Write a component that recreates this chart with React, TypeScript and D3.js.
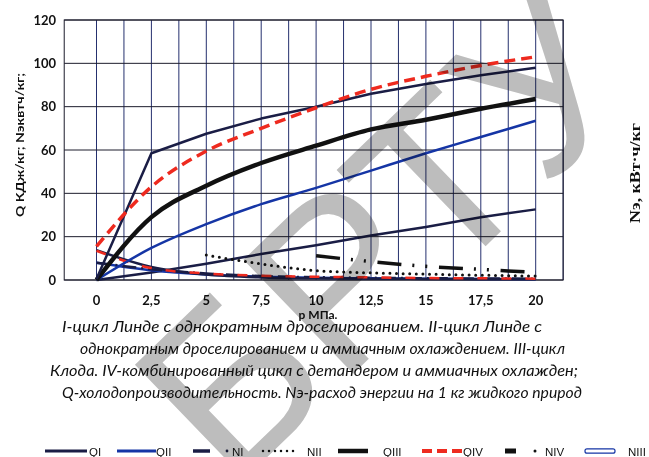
import React from "react";
import * as d3 from "d3";

// давление, МПа
const pressure = [0, 2.5, 5, 7.5, 10, 12.5, 15, 17.5, 20];
const yTicks = [0, 20, 40, 60, 80, 100, 120];

// холодопроизводительность Q
const qI = [0.5, 58.5, 67.5, 74.5, 80, 86, 90.5, 94.5, 98];
const qII = [0, 14.8, 25.8, 35, 42.5, 50.5, 58.5, 66, 73.5];
const qIII = [0, 29, 43.5, 54, 62, 69.5, 74, 79, 83.5];
const qIV = [15.5, 43, 59.5, 70, 79.5, 88, 94, 99, 103];
const qLow = [0, 3.5, 7.5, 12, 16, 20.5, 24.5, 29, 32.6];

// расход энергии N
const nI = [8, 5, 3, 1.8, 1.3, 1, 0.8, 0.7, 0.6];
const nII = [null, null, 11.5, 7.4, 4.3, 3.3, 2.7, 2.2, 1.8];
const nIII = [8, 4.5, 2.5, 1.5, 1, 0.8, 0.6, 0.5, 0.4];
const nIV = [null, null, null, null, 11.2, 8.5, 6.3, 4.9, 3.5];
const nDrop = [13.8, 6, 2.5, 1.2, 0.8, 0.6, 0.5, 0.4, 0.3];
const nDropRed = [13.5, 5.5, 3, 2, 1.5, 1.2, 0.9, 0.8, 0.6];

const captionLines = [
  "I-цикл Линде с однократным дроселированием. II-цикл Линде с",
  "однократным дроселированием и аммиачным охлаждением. III-цикл",
  "Клода. IV-комбинированный цикл с детандером и аммиачных охлажден;",
  "Q-холодопроизводительность. Nэ-расход энергии на 1 кг жидкого природ",
];

const NAVY = "#1a1d45";
const BLUE = "#1535a5";
const RED = "#ee2a1f";

export default function App() {
  const x = d3.scaleLinear().domain([0, 20]).range([96.5, 535.7]);
  const y = d3.scaleLinear().domain([0, 120]).range([280, 20]);
  const left = x(-1.47);
  const right = x(21.25);
  const vGrid = d3.range(0, 21.26, 1.25);

  const mk = (vals, curve) =>
    d3
      .line()
      .defined((d) => d[1] != null)
      .x((d) => x(d[0]))
      .y((d) => y(d[1]))
      .curve(curve)(pressure.map((p, i) => [p, vals[i]]));

  const fmt = (v) => String(v).replace(".", ",");

  const series = [
    { d: mk(qLow, d3.curveLinear), stroke: NAVY, w: 2.5 },
    { d: mk(nIII, d3.curveMonotoneX), stroke: BLUE, w: 2.5 },
    { d: mk(nI, d3.curveMonotoneX), stroke: NAVY, w: 2.5, dash: "14 5 2 5" },
    { d: mk(nDrop, d3.curveMonotoneX), stroke: NAVY, w: 2.5 },
    { d: mk(nDropRed, d3.curveMonotoneX), stroke: RED, w: 2.5, dash: "10 14" },
    { d: mk(nII, d3.curveMonotoneX), stroke: "#111", w: 3, dash: "0 6.6", cap: "round" },
    { d: mk(nIV, d3.curveMonotoneX), stroke: "#111", w: 3.5, dash: "24 11 2 11 2 11.7" },
    { d: mk(qII, d3.curveMonotoneX), stroke: BLUE, w: 2.5 },
    { d: mk(qIII, d3.curveMonotoneX), stroke: "#111", w: 4.5 },
    { d: mk(qI, d3.curveLinear), stroke: NAVY, w: 2.5 },
    { d: mk(qIV, d3.curveMonotoneX), stroke: RED, w: 3.5, dash: "11 6" },
  ];

  const sans = "Lato, 'Open Sans', sans-serif";
  const ly = 451;

  return (
    <svg width={649} height={457} style={{ position: "absolute", left: 0, top: 0, background: "#fff" }}>
      {/* сетка */}
      {vGrid.map((v) => (
        <line key={"v" + v} x1={x(v)} x2={x(v)} y1={y(120)} y2={y(0)} stroke="#25306e" strokeWidth={1} />
      ))}
      {yTicks.map((t) => (
        <line key={"h" + t} x1={left} x2={right} y1={y(t)} y2={y(t)} stroke="#1c1c2c" strokeWidth={1} />
      ))}
      <rect x={left} y={y(120)} width={right - left} height={y(0) - y(120)} fill="none" stroke="#1c1c2c" strokeWidth={1} />

      {series.map((s, i) => (
        <path key={i} d={s.d} fill="none" stroke={s.stroke} strokeWidth={s.w}
          strokeDasharray={s.dash} strokeLinecap={s.cap || "butt"} strokeLinejoin="round" />
      ))}

      {/* оси */}
      {yTicks.map((t) => (
        <text key={"yt" + t} x={56} y={y(t) + 4.5} textAnchor="end" fontFamily={sans} fontWeight="bold" fontSize={13} fill="#111">{t}</text>
      ))}
      {pressure.map((p) => (
        <text key={"xt" + p} x={x(p)} y={305} textAnchor="middle" fontFamily={sans} fontWeight="bold" fontSize={13} fill="#111">{fmt(p)}</text>
      ))}
      <text x={318} y={319} textAnchor="middle" fontFamily={sans} fontWeight="bold" fontSize={12} fill="#111">p МПа.</text>
      <text transform="translate(24,145) rotate(-90)" textAnchor="middle" fontFamily={sans} fontWeight="bold" fontSize={12}
        textLength={144} lengthAdjust="spacingAndGlyphs" fill="#111">Q КДж/кг; Nэквтч/кг;</text>
      <text transform="translate(640,173) rotate(-90)" textAnchor="middle" fontFamily="'Liberation Serif', serif" fontWeight="bold"
        fontSize={15} textLength={100} lengthAdjust="spacingAndGlyphs" fill="#111">Nэ, кВт·ч/кг</text>

      {/* подпись */}
      {captionLines.map((t, i) => {
        const xs = [62, 80, 50, 62];
        const xe = [542, 565, 578, 582];
        return (
          <text key={"c" + i} x={xs[i]} y={332 + i * 22} fontFamily={sans} fontStyle="italic" fontSize={15.5}
            textLength={xe[i] - xs[i]} lengthAdjust="spacingAndGlyphs" fill="#111">{t}</text>
        );
      })}

      {/* легенда */}
      <g fontFamily="'Liberation Sans', Arial, sans-serif" fontSize={11.5} fill="#111">
        <line x1={45} x2={87} y1={ly} y2={ly} stroke={NAVY} strokeWidth={3} />
        <text x={89} y={455.5}>QI</text>
        <line x1={117} x2={156} y1={ly} y2={ly} stroke={BLUE} strokeWidth={3} />
        <text x={156} y={455.5}>QII</text>
        <line x1={193} x2={210} y1={ly} y2={ly} stroke={NAVY} strokeWidth={3.5} />
        <circle cx={227} cy={ly} r={1.4} fill={NAVY} />
        <text x={232} y={455.5}>NI</text>
        <line x1={263} x2={299} y1={ly} y2={ly} stroke="#111" strokeWidth={2.5} strokeDasharray="0 6" strokeLinecap="round" />
        <text x={307} y={455.5}>NII</text>
        <line x1={338} x2={368} y1={ly} y2={ly} stroke="#111" strokeWidth={4.5} />
        <text x={383} y={455.5}>QIII</text>
        <line x1={422} x2={463} y1={ly} y2={ly} stroke={RED} strokeWidth={4} strokeDasharray="10 5" />
        <text x={463} y={455.5}>QIV</text>
        <line x1={505} x2={516} y1={ly} y2={ly} stroke="#111" strokeWidth={5} />
        <circle cx={535} cy={ly} r={1.5} fill="#111" />
        <text x={545} y={455.5}>NIV</text>
        <rect x={585} y={ly - 2.2} width={30} height={4.4} rx={2} fill="#fff" stroke={BLUE} strokeWidth={1.2} />
        <text x={628} y={455.5}>NIII</text>
      </g>

      {/* водяной знак */}
      <text transform="translate(440,290) rotate(-44)" textAnchor="middle" fontFamily="'Liberation Sans', sans-serif"
        fontSize={230} fill="#bdbdbd" style={{ mixBlendMode: "multiply" }}>БРТУ</text>
    </svg>
  );
}
